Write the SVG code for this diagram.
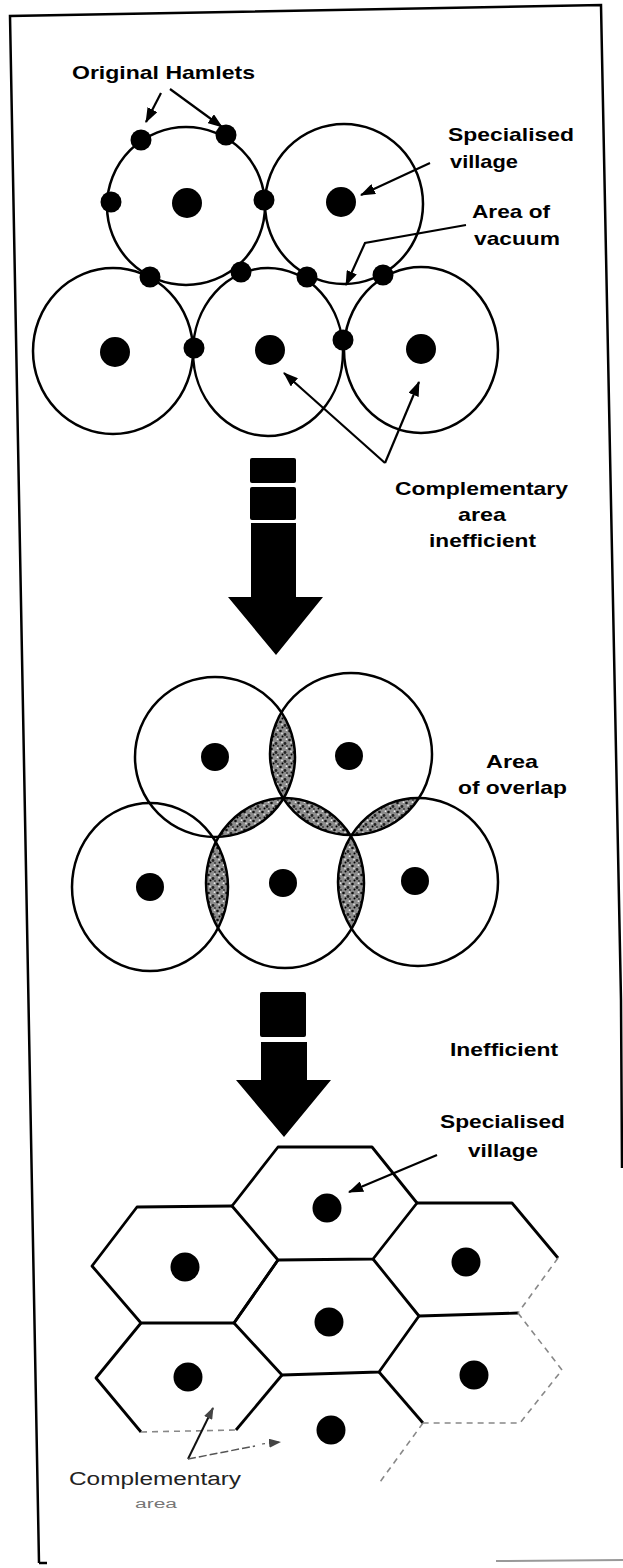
<svg xmlns="http://www.w3.org/2000/svg" width="623" height="1568" viewBox="0 0 623 1568">
<style>
.ring{fill:none;stroke:#000;stroke-width:2.5}
.dot{fill:#000}
.lbl{font-family:"Liberation Sans",Arial,Helvetica,sans-serif;font-weight:bold;font-size:19px;fill:#000}
.faint{font-family:"Liberation Sans",Arial,Helvetica,sans-serif;font-weight:normal;fill:#222}
.con{fill:none;stroke:#000;stroke-width:2.2}
.hex{fill:none;stroke:#000;stroke-width:2.8;stroke-linejoin:round}
.hexf{fill:none;stroke:#888;stroke-width:1.6;stroke-dasharray:6 5}
.frame{fill:none;stroke:#000;stroke-width:2.5}
.big{fill:#000}
</style>
<defs>
<marker id="ah" markerWidth="15" markerHeight="11" refX="14" refY="5.5" orient="auto" markerUnits="userSpaceOnUse">
<path d="M0,0 L15,5.5 L0,11 Z" fill="#000"/>
</marker>
<marker id="ahg" markerWidth="12" markerHeight="9" refX="11" refY="4.5" orient="auto" markerUnits="userSpaceOnUse">
<path d="M0,0 L12,4.5 L0,9 Z" fill="#444"/>
</marker>
<pattern id="stip" width="9" height="9" patternUnits="userSpaceOnUse">
<rect width="9" height="9" fill="#8c8c8c"/>
<circle cx="1.5" cy="2" r="1.3" fill="#111"/>
<circle cx="6" cy="5.5" r="1.4" fill="#222"/>
<circle cx="3.5" cy="7.5" r="1" fill="#000"/>
<circle cx="7.5" cy="1.2" r="0.9" fill="#e8e8e8"/>
<circle cx="3" cy="4.5" r="0.9" fill="#ddd"/>
<circle cx="8" cy="8" r="0.9" fill="#333"/>
</pattern>
<clipPath id="cTR2"><ellipse cx="351" cy="754" rx="81" ry="81"/></clipPath>
<clipPath id="cBM2"><ellipse cx="285" cy="883" rx="79" ry="85"/></clipPath>
<clipPath id="cBR2"><ellipse cx="418" cy="882" rx="80" ry="84"/></clipPath>
</defs>

<g id="frame">
<path class="frame" d="M39,1563 L10,16 L601,5 L621,1000 L622,1168"/>
<path d="M39,1563 L47,1563" stroke="#000" stroke-width="2.5"/>
<path d="M496,1561 L623,1560" stroke="#999" stroke-width="2"/>
</g>

<!-- Stage 1: original hamlets -->
<g id="stage1">
<g id="s1-tl"><ellipse class="ring" cx="186" cy="206" rx="79" ry="79"/><circle class="dot" cx="187" cy="203" r="15"/></g>
<g id="s1-tr"><ellipse class="ring" cx="344" cy="204" rx="79" ry="80"/><circle class="dot" cx="341" cy="202" r="15"/></g>
<g id="s1-bl"><ellipse class="ring" cx="113" cy="351" rx="80" ry="83"/><circle class="dot" cx="115" cy="352" r="15"/></g>
<g id="s1-bm"><ellipse class="ring" cx="268" cy="352" rx="75" ry="84"/><circle class="dot" cx="270" cy="350" r="15"/></g>
<g id="s1-br"><ellipse class="ring" cx="421" cy="350" rx="77" ry="83"/><circle class="dot" cx="421" cy="349" r="15"/></g>
<g id="hamlets">
<circle class="dot" cx="141" cy="140" r="10.5"/>
<circle class="dot" cx="226" cy="135" r="10.5"/>
<circle class="dot" cx="111" cy="202" r="10.5"/>
<circle class="dot" cx="264" cy="200" r="10.5"/>
<circle class="dot" cx="150" cy="277" r="10.5"/>
<circle class="dot" cx="241" cy="272" r="10.5"/>
<circle class="dot" cx="307" cy="277" r="10.5"/>
<circle class="dot" cx="383" cy="275" r="10.5"/>
<circle class="dot" cx="194" cy="348" r="10.5"/>
<circle class="dot" cx="343" cy="340" r="10.5"/>
</g>
</g>

<!-- Stage 2: overlap -->
<g id="stage2">
<g id="lenses">
<ellipse cx="215" cy="757" rx="80" ry="80" fill="url(#stip)" clip-path="url(#cTR2)"/>
<ellipse cx="215" cy="757" rx="80" ry="80" fill="url(#stip)" clip-path="url(#cBM2)"/>
<ellipse cx="351" cy="754" rx="81" ry="81" fill="url(#stip)" clip-path="url(#cBM2)"/>
<ellipse cx="351" cy="754" rx="81" ry="81" fill="url(#stip)" clip-path="url(#cBR2)"/>
<ellipse cx="150" cy="887" rx="78" ry="84" fill="url(#stip)" clip-path="url(#cBM2)"/>
<ellipse cx="285" cy="883" rx="79" ry="85" fill="url(#stip)" clip-path="url(#cBR2)"/>
</g>
<g id="s2-tl"><ellipse class="ring" cx="215" cy="757" rx="80" ry="80"/><circle class="dot" cx="215" cy="757" r="14"/></g>
<g id="s2-tr"><ellipse class="ring" cx="351" cy="754" rx="81" ry="81"/><circle class="dot" cx="349" cy="756" r="14"/></g>
<g id="s2-bl"><ellipse class="ring" cx="150" cy="887" rx="78" ry="84"/><circle class="dot" cx="150" cy="887" r="14"/></g>
<g id="s2-bm"><ellipse class="ring" cx="285" cy="883" rx="79" ry="85"/><circle class="dot" cx="283" cy="883" r="14"/></g>
<g id="s2-br"><ellipse class="ring" cx="418" cy="882" rx="80" ry="84"/><circle class="dot" cx="415" cy="881" r="14"/></g>
</g>

<!-- Stage 3: hexagons -->
<g id="stage3">
<g id="hex-top"><path class="hex" d="M278,1147 L372,1147 L417,1203 L373,1259 L278,1260 L232,1206 Z"/><circle class="dot" cx="327" cy="1208" r="14.5"/></g>
<g id="hex-lu"><path class="hex" d="M232,1206 L137,1207 L92,1266 L141,1323 L234,1323 L278,1260"/><circle class="dot" cx="185" cy="1267" r="14.5"/></g>
<g id="hex-mid"><path class="hex" d="M278,1260 L234,1323 L282,1375 L379,1372 L419,1316 L373,1259"/><circle class="dot" cx="329" cy="1322" r="14.5"/></g>
<g id="hex-ru"><path class="hex" d="M417,1203 L512,1203 L558,1258"/><path class="hex" d="M419,1316 L518,1313"/><path class="hexf" d="M558,1258 L518,1313"/><circle class="dot" cx="466" cy="1262" r="14.5"/></g>
<g id="hex-ll"><path class="hex" d="M141,1323 L96,1378 L141,1432"/><path class="hex" d="M236,1430 L282,1375"/><path class="hexf" d="M141,1432 L236,1430"/><circle class="dot" cx="188" cy="1377" r="14.5"/></g>
<g id="hex-rl"><path class="hex" d="M379,1372 L423,1423"/><path class="hexf" d="M518,1313 L562,1370 L520,1423 L423,1423"/><circle class="dot" cx="474" cy="1375" r="14.5"/></g>
<g id="hex-bm"><path class="hexf" d="M423,1423 L380,1482"/><circle class="dot" cx="331" cy="1430" r="14.5"/></g>
</g>

<!-- Big transition arrows -->
<g id="big-arrow-1">
<rect class="big" x="250" y="458" width="46" height="25" rx="2"/>
<rect class="big" x="250" y="487" width="46" height="33" rx="2"/>
<path class="big" d="M251,523 L296,523 L296,597 L323,597 L276,655 L228,597 L251,597 Z"/>
</g>
<g id="big-arrow-2">
<rect class="big" x="260" y="992" width="46" height="45" rx="2"/>
<path class="big" d="M261,1042 L307,1042 L307,1080 L331,1080 L284,1137 L236,1080 L261,1080 Z"/>
</g>

<!-- Connectors -->
<g id="connectors">
<path class="con" d="M161,93 L146,122" marker-end="url(#ah)"/>
<path class="con" d="M170,89 L222,127" marker-end="url(#ah)"/>
<path class="con" d="M430,163 L361,195" marker-end="url(#ah)"/>
<path class="con" d="M466,225 L365,243 L346,285" marker-end="url(#ah)"/>
<path class="con" d="M385,463 L284,373" marker-end="url(#ah)"/>
<path class="con" d="M385,463 L419,382" marker-end="url(#ah)"/>
<path class="con" d="M437,1155 L349,1192" marker-end="url(#ah)"/>
<path d="M188,1459 L213,1408" fill="none" stroke="#111" stroke-width="2" marker-end="url(#ahg)"/>
<path d="M188,1459 L255,1446" fill="none" stroke="#555" stroke-width="1.5" stroke-dasharray="8 3"/>
<path d="M262,1444 L280,1442" fill="none" stroke="#555" stroke-width="1.2" stroke-dasharray="3 4" marker-end="url(#ahg)"/>
</g>

<!-- Labels -->
<g id="labels">
<text class="lbl" x="72" y="79" textLength="183" lengthAdjust="spacingAndGlyphs">Original Hamlets</text>
<text class="lbl" x="448" y="141" textLength="126" lengthAdjust="spacingAndGlyphs">Specialised</text>
<text class="lbl" x="450" y="168" textLength="68" lengthAdjust="spacingAndGlyphs">village</text>
<text class="lbl" x="472" y="218" textLength="78" lengthAdjust="spacingAndGlyphs">Area of</text>
<text class="lbl" x="474" y="245" textLength="86" lengthAdjust="spacingAndGlyphs">vacuum</text>
<text class="lbl" x="395" y="495" textLength="173" lengthAdjust="spacingAndGlyphs">Complementary</text>
<text class="lbl" x="458" y="521" textLength="48" lengthAdjust="spacingAndGlyphs">area</text>
<text class="lbl" x="429" y="547" textLength="107" lengthAdjust="spacingAndGlyphs">inefficient</text>
<text class="lbl" x="486" y="768" textLength="52" lengthAdjust="spacingAndGlyphs">Area</text>
<text class="lbl" x="458" y="794" textLength="109" lengthAdjust="spacingAndGlyphs">of overlap</text>
<text class="lbl" x="450" y="1056" textLength="108" lengthAdjust="spacingAndGlyphs">Inefficient</text>
<text class="lbl" x="440" y="1128" textLength="125" lengthAdjust="spacingAndGlyphs">Specialised</text>
<text class="lbl" x="468" y="1157" textLength="70" lengthAdjust="spacingAndGlyphs">village</text>
<text class="faint" x="69" y="1485" font-size="18" textLength="172" lengthAdjust="spacingAndGlyphs">Complementary</text>
<text class="faint" x="135" y="1508" font-size="12" style="fill:#777" textLength="42" lengthAdjust="spacingAndGlyphs">area</text>
</g>
</svg>
